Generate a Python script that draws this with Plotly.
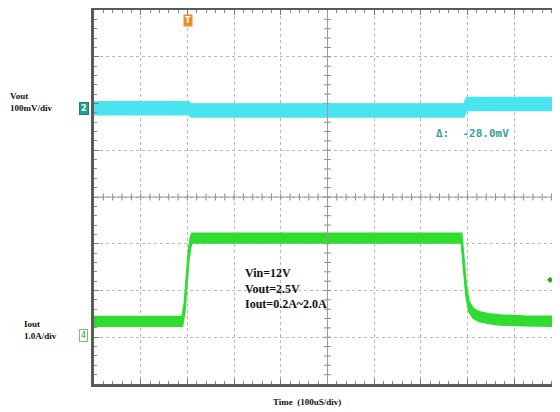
import plotly.graph_objects as go

# ---- data read from the scope capture ----
time_vout = [-500, -298, -292, 292, 298, 498]          # us, relative to screen centre
vout_mv = [0, 0, -5, -5, 9, 9]                           # mV, relative to ch2 marker
time_iout = [-500, -311, -306, -301, -297, -293, -290, 287, 292, 297, 303, 312, 325, 345, 370, 420, 498]
iout_a = [0.3, 0.3, 0.6, 1.2, 1.75, 2.0, 2.08, 2.08, 1.5, 0.95, 0.62, 0.47, 0.4, 0.36, 0.33, 0.31, 0.3]
trigger_time = -298
vout_label = "Vout<br>100mV/div"
iout_label = "Iout<br>1.0A/div"
cond_text = "Vin=12V<br>Vout=2.5V<br>Iout=0.2A~2.0A"
delta_text = "\u0394:  -28.0mV"
time_label = "Time  (100uS/div)"

# ---- styles ----
CYAN = "#4ae4f0"
GREEN = "#2fdc2f"
band_v = 14     # half thickness of the noisy Vout band (mV)
band_i = 0.1    # half thickness of the noisy Iout band (A)
SERIF = "Liberation Serif"
XR = [-500, 498]
YR = [-4, 4]

fig = go.Figure()

# Vout band
fig.add_trace(go.Scatter(x=time_vout, y=[v + band_v for v in vout_mv], mode="lines",
                         line=dict(color=CYAN, width=1.5),
                         xaxis="x", yaxis="y2", hoverinfo="skip", showlegend=False))
fig.add_trace(go.Scatter(x=time_vout, y=[v - band_v for v in vout_mv], mode="lines",
                         line=dict(color=CYAN, width=1.5), fill="tonexty", fillcolor=CYAN,
                         xaxis="x", yaxis="y2", hoverinfo="skip", showlegend=False))
# Iout band
fig.add_trace(go.Scatter(x=time_iout, y=[v + band_i for v in iout_a], mode="lines",
                         line=dict(color=GREEN, width=2),
                         xaxis="x", yaxis="y3", hoverinfo="skip", showlegend=False))
fig.add_trace(go.Scatter(x=time_iout, y=[v - band_i for v in iout_a], mode="lines",
                         line=dict(color=GREEN, width=2), fill="tonexty", fillcolor=GREEN,
                         xaxis="x", yaxis="y3", hoverinfo="skip", showlegend=False))

grid = dict(showgrid=True, gridcolor="#b8b8b8", griddash="dot", gridwidth=1,
            zeroline=False, showticklabels=False, fixedrange=True)

# page body has an 8px default margin, so the figure is laid out 8px smaller
fig.update_layout(
    width=552, height=404,
    margin=dict(l=86, r=0, t=2, b=28, autoexpand=False),
    paper_bgcolor="white", plot_bgcolor="white",
    xaxis=dict(range=XR, dtick=100, tick0=0, showline=True, linecolor="#5a5a5a",
               linewidth=3, mirror="ticks", ticks="inside", ticklen=5, tickcolor="#777",
               minor=dict(dtick=20, ticks="inside", ticklen=3, tickcolor="#888"), **grid),
    yaxis=dict(range=YR, dtick=1, tick0=0, showline=True, linecolor="#5a5a5a",
               linewidth=3, ticks="inside", ticklen=5, tickcolor="#777",
               minor=dict(dtick=0.2, ticks="inside", ticklen=3, tickcolor="#888"), **grid),
    yaxis2=dict(overlaying="y", range=[-590, 210], visible=False, fixedrange=True),
    yaxis3=dict(overlaying="y", range=[-1.04, 6.96], visible=False, fixedrange=True),
    showlegend=False,
)

# centre cross with fine graticule ticks
fig.add_hline(y=0, line=dict(color="#9a9a9a", width=1))
fig.add_vline(x=0, line=dict(color="#9a9a9a", width=1))
ticks_x = [XR[0] + 20 * k for k in range(1, 50)]
ticks_y = [YR[0] + 0.2 * k for k in range(1, 40)]
fig.add_trace(go.Scatter(x=ticks_x, y=[0] * len(ticks_x), mode="markers",
                         marker=dict(symbol="line-ns", size=5, line=dict(color="#8a8a8a", width=1)),
                         hoverinfo="skip", showlegend=False))
fig.add_trace(go.Scatter(x=[0] * len(ticks_y), y=ticks_y, mode="markers",
                         marker=dict(symbol="line-ew", size=5, line=dict(color="#8a8a8a", width=1)),
                         hoverinfo="skip", showlegend=False))

ann = []
ann.append(dict(text="<b>" + vout_label + "</b>", xref="paper", yref="paper", x=-0.1845, y=0.755,
                xanchor="left", yanchor="middle", align="left", showarrow=False,
                font=dict(family=SERIF, size=9, color="#111")))
ann.append(dict(text="<b>2</b>", xref="paper", yref="y2", x=-0.0215, y=0, xanchor="center",
                yanchor="middle", showarrow=False, bgcolor="#23a08e", bordercolor="#1c7f70",
                borderwidth=1, borderpad=1, font=dict(family="DejaVu Sans", size=8, color="white")))
ann.append(dict(text="<b>" + iout_label + "</b>", xref="paper", yref="paper", x=-0.1545, y=0.144,
                xanchor="left", yanchor="middle", align="left", showarrow=False,
                font=dict(family=SERIF, size=9, color="#111")))
ann.append(dict(text="4", xref="paper", yref="y3", x=-0.0215, y=0, xanchor="center",
                yanchor="middle", showarrow=False, bgcolor="white", bordercolor="#6c6",
                borderwidth=1, borderpad=1, font=dict(family="DejaVu Sans", size=8, color="#393")))
ann.append(dict(text="<b>T</b>", xref="x", yref="paper", x=trigger_time, y=0.973,
                xanchor="center", yanchor="middle", showarrow=False, bgcolor="#e8902a",
                borderpad=1, font=dict(family="DejaVu Sans", size=8, color="white")))
ann.append(dict(text="<b>" + cond_text + "</b>", xref="paper", yref="paper", x=0.3197, y=0.32,
                xanchor="left", yanchor="top", align="left", showarrow=False,
                font=dict(family=SERIF, size=12, color="#111")))
ann.append(dict(text="<b>" + delta_text + "</b>", xref="paper", yref="paper", x=0.73, y=0.669,
                xanchor="left", yanchor="middle", showarrow=False,
                font=dict(family="DejaVu Sans Mono", size=11, color="#3a9e9e")))
ann.append(dict(text="<b>" + time_label + "</b>", xref="paper", yref="paper", x=0.457, y=-0.048,
                xanchor="center", yanchor="middle", showarrow=False,
                font=dict(family=SERIF, size=9, color="#111")))
ann.append(dict(text="\u25c6", xref="paper", yref="paper", x=0.98, y=0.28,
                xanchor="center", yanchor="middle", showarrow=False,
                font=dict(family="DejaVu Sans", size=8, color="#2a2")))
fig.update_layout(annotations=ann)

fig.write_html("out.html")
